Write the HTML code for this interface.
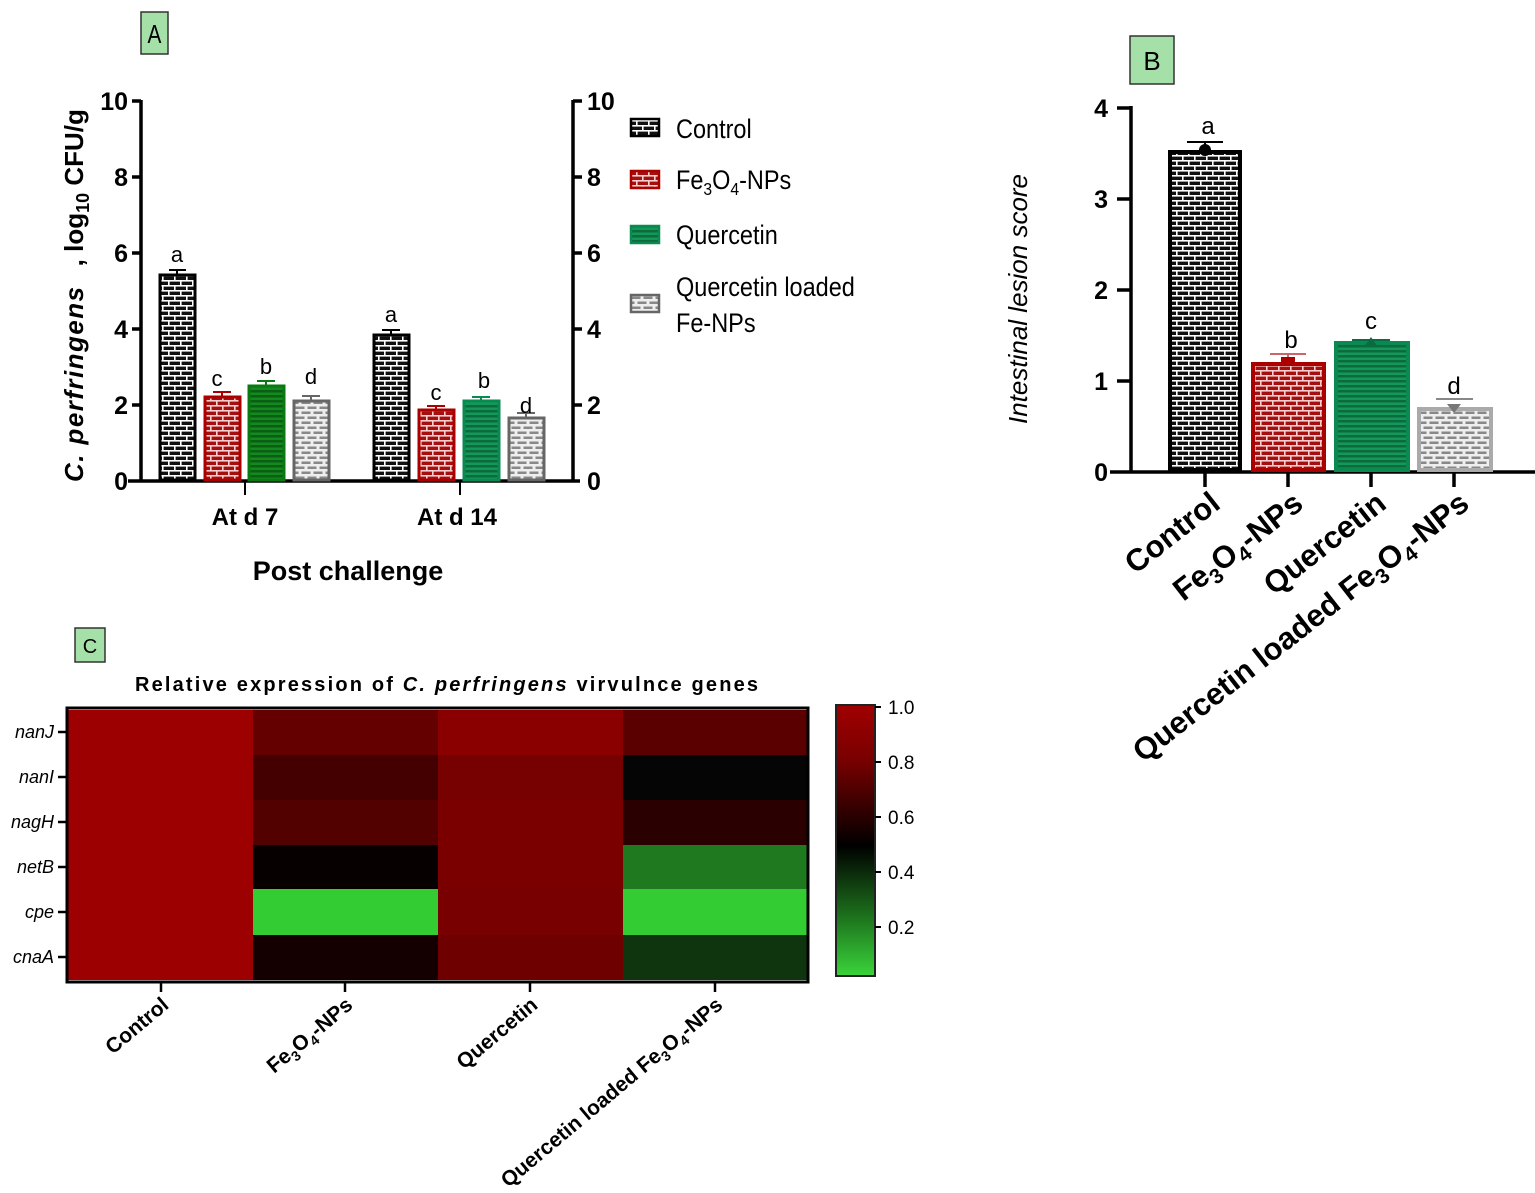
<!DOCTYPE html>
<html><head><meta charset="utf-8"><style>
html,body{margin:0;padding:0;background:#fff}
svg{display:block;font-family:"Liberation Sans",sans-serif}
</style></head><body>
<svg width="1535" height="1193" viewBox="0 0 1535 1193" xmlns="http://www.w3.org/2000/svg">
<defs>
<pattern id="pk" width="12" height="10" patternUnits="userSpaceOnUse"><rect width="12" height="10" fill="#111"/><rect y="0" width="12" height="1.6" fill="#fff"/><rect y="5" width="12" height="1.6" fill="#fff"/><rect x="0" y="0" width="1.6" height="5" fill="#fff"/><rect x="6" y="5" width="1.6" height="5" fill="#fff"/></pattern>
<pattern id="pr" width="12" height="10" patternUnits="userSpaceOnUse"><rect width="12" height="10" fill="#a50f0f"/><rect y="0" width="12" height="1.6" fill="#f6d0d0"/><rect y="5" width="12" height="1.6" fill="#f6d0d0"/><rect x="0" y="0" width="1.6" height="5" fill="#f6d0d0"/><rect x="6" y="5" width="1.6" height="5" fill="#f6d0d0"/></pattern>
<pattern id="pg" width="12" height="10" patternUnits="userSpaceOnUse"><rect width="12" height="10" fill="#12995a"/><rect y="0" width="12" height="2.5" fill="#0c6a3c"/><rect y="5" width="12" height="2.5" fill="#0c6a3c"/></pattern>
<pattern id="pg2" width="12" height="10" patternUnits="userSpaceOnUse"><rect width="12" height="10" fill="#128a1e"/><rect y="0" width="12" height="2.5" fill="#0b5e14"/><rect y="5" width="12" height="2.5" fill="#0b5e14"/></pattern>
<pattern id="pa" width="12" height="10" patternUnits="userSpaceOnUse"><rect width="12" height="10" fill="#eee"/><rect x="1.5" y="1.5" width="9" height="2.5" fill="#888"/><rect x="-4.5" y="6.5" width="9" height="2.5" fill="#888"/><rect x="7.5" y="6.5" width="9" height="2.5" fill="#888"/></pattern>
</defs>

<!-- Panel A -->
<rect x="141" y="12" width="27" height="42" fill="#a6e0a9" stroke="#333" stroke-width="1.5"/>
<text x="154.5" y="43" font-size="26" text-anchor="middle" transform="translate(154.5,0) scale(0.8,1) translate(-154.5,0)">A</text>
<g stroke="#000" stroke-width="3.5" fill="none">
<line x1="141" y1="100" x2="141" y2="482"/>
<line x1="573" y1="100" x2="573" y2="482"/>
<line x1="128" y1="481" x2="580" y2="481"/>
<line x1="132" y1="101" x2="141" y2="101"/><line x1="132" y1="177" x2="141" y2="177"/><line x1="132" y1="253" x2="141" y2="253"/><line x1="132" y1="329" x2="141" y2="329"/><line x1="132" y1="405" x2="141" y2="405"/>
<line x1="573" y1="101" x2="582" y2="101"/><line x1="573" y1="177" x2="582" y2="177"/><line x1="573" y1="253" x2="582" y2="253"/><line x1="573" y1="329" x2="582" y2="329"/><line x1="573" y1="405" x2="582" y2="405"/>
<line x1="245" y1="481" x2="245" y2="495" stroke-width="2"/><line x1="460" y1="481" x2="460" y2="495" stroke-width="2"/>
</g>
<g font-size="25" font-weight="bold" text-anchor="end">
<text x="128" y="110">10</text><text x="128" y="186">8</text><text x="128" y="262">6</text><text x="128" y="338">4</text><text x="128" y="414">2</text><text x="128" y="490">0</text>
</g>
<g font-size="25" font-weight="bold" text-anchor="start">
<text x="587" y="110">10</text><text x="587" y="186">8</text><text x="587" y="262">6</text><text x="587" y="338">4</text><text x="587" y="414">2</text><text x="587" y="490">0</text>
</g>
<text transform="translate(83,482) rotate(-90)" font-size="26" font-weight="bold"><tspan font-style="italic" textLength="195" lengthAdjust="spacing">C. perfringens</tspan><tspan dx="12">  ,  log</tspan><tspan font-size="18" dy="6">10</tspan><tspan dy="-6"> CFU/g</tspan></text>
<!-- bars -->
<g stroke-width="3">
<rect x="160" y="275" width="35" height="205" fill="url(#pk)" stroke="#000"/>
<rect x="205" y="397" width="35" height="83" fill="url(#pr)" stroke="#a00"/>
<rect x="249" y="386" width="35" height="94" fill="url(#pg2)" stroke="#0a7a10"/>
<rect x="294" y="401" width="35" height="79" fill="url(#pa)" stroke="#666"/>
<rect x="374" y="335" width="35" height="145" fill="url(#pk)" stroke="#000"/>
<rect x="419" y="410" width="35" height="70" fill="url(#pr)" stroke="#a00"/>
<rect x="464" y="401" width="35" height="79" fill="url(#pg)" stroke="#0a8a50"/>
<rect x="509" y="418" width="35" height="62" fill="url(#pa)" stroke="#666"/>
</g>
<g stroke-width="2" fill="none">
<path d="M177 275V270M169 270H186" stroke="#000"/>
<path d="M222 397V392M213 392H231" stroke="#a00"/>
<path d="M266 386V381M257 381H275" stroke="#0a7a10"/>
<path d="M311 401V396M302 396H320" stroke="#666"/>
<path d="M391 335V330M382 330H400" stroke="#000"/>
<path d="M436 410V406M427 406H445" stroke="#a00"/>
<path d="M481 401V397M472 397H490" stroke="#0a8a50"/>
<path d="M526 418V413M517 413H535" stroke="#666"/>
</g>
<g font-size="22" text-anchor="middle">
<text x="177" y="262">a</text><text x="217" y="386">c</text><text x="266" y="374">b</text><text x="311" y="384">d</text>
<text x="391" y="322">a</text><text x="436" y="400">c</text><text x="484" y="388">b</text><text x="526" y="413">d</text>
</g>
<text x="245" y="525" font-size="24" font-weight="bold" text-anchor="middle">At d 7</text>
<text x="457" y="525" font-size="24" font-weight="bold" text-anchor="middle">At d 14</text>
<text x="348" y="580" font-size="27" font-weight="bold" text-anchor="middle">Post challenge</text>
<!-- legend -->
<g stroke-width="2.5">
<rect x="631" y="119" width="28" height="17" fill="url(#pk)" stroke="#000"/>
<rect x="631" y="171" width="28" height="17" fill="url(#pr)" stroke="#a00"/>
<rect x="631" y="226" width="28" height="17" fill="url(#pg)" stroke="#0a8a50"/>
<rect x="631" y="295" width="28" height="17" fill="url(#pa)" stroke="#666"/>
</g>
<g font-size="27" transform="translate(676,0) scale(0.87,1) translate(-676,0)">
<text x="676" y="138">Control</text>
<text x="676" y="189">Fe<tspan font-size="18" dy="6">3</tspan><tspan dy="-6">O</tspan><tspan font-size="18" dy="6">4</tspan><tspan dy="-6">-NPs</tspan></text>
<text x="676" y="244">Quercetin</text>
<text x="676" y="296">Quercetin loaded</text>
<text x="676" y="332">Fe-NPs</text>
</g>

<!-- Panel B -->
<rect x="1130" y="36" width="44" height="48" fill="#a6e0a9" stroke="#333" stroke-width="1.5"/>
<text x="1152" y="70" font-size="26" text-anchor="middle">B</text>
<g stroke="#000" stroke-width="3.5">
<line x1="1131" y1="106" x2="1131" y2="473"/>
<line x1="1110" y1="472" x2="1535" y2="472"/>
<line x1="1117" y1="108" x2="1131" y2="108"/><line x1="1117" y1="199" x2="1131" y2="199"/><line x1="1117" y1="290" x2="1131" y2="290"/><line x1="1117" y1="381" x2="1131" y2="381"/>
<line x1="1205" y1="472" x2="1205" y2="487"/><line x1="1288" y1="472" x2="1288" y2="487"/><line x1="1371" y1="472" x2="1371" y2="487"/><line x1="1454" y1="472" x2="1454" y2="487"/>
</g>
<g font-size="25" font-weight="bold" text-anchor="end">
<text x="1108" y="117">4</text><text x="1108" y="208">3</text><text x="1108" y="299">2</text><text x="1108" y="390">1</text><text x="1108" y="481">0</text>
</g>
<text transform="translate(1027,424) rotate(-90)" font-size="26" font-style="italic">Intestinal lesion score</text>
<g stroke-width="4">
<rect x="1170" y="152" width="70" height="318" fill="url(#pk)" stroke="#000"/>
<rect x="1253" y="364" width="71" height="106" fill="url(#pr)" stroke="#a00"/>
<rect x="1336" y="343" width="72" height="127" fill="url(#pg)" stroke="#0a8a50"/>
<rect x="1419" y="409" width="72" height="61" fill="url(#pa)" stroke="#aaa"/>
</g>
<g stroke-width="2">
<path d="M1205 148V142M1187 142H1223" stroke="#000"/><circle cx="1205" cy="150" r="6" fill="#000"/>
<path d="M1288 358V354M1270 354H1306" stroke="#c66"/><rect x="1281" y="357" width="14" height="8" fill="#a00"/>
<path d="M1371 340H1390M1352 340H1371" stroke="#0a6a40"/><path d="M1364 347L1371 337L1378 347Z" fill="#0a6a40"/>
<path d="M1454 399H1473M1436 399H1454" stroke="#888"/><path d="M1447 404L1461 404L1454 413Z" fill="#777"/>
</g>
<g font-size="24" text-anchor="middle">
<text x="1208" y="134">a</text><text x="1291" y="348">b</text><text x="1371" y="329">c</text><text x="1454" y="394">d</text>
</g>
<g font-size="31" font-weight="bold" text-anchor="end">
<text transform="translate(1222,507) rotate(-38)">Control</text>
<text transform="translate(1305,507) rotate(-38)">Fe<tspan font-size="21" dy="7">3</tspan><tspan dy="-7">O</tspan><tspan font-size="21" dy="7">4</tspan><tspan dy="-7">-NPs</tspan></text>
<text transform="translate(1388,507) rotate(-38)">Quercetin</text>
<text transform="translate(1471,507) rotate(-38)">Quercetin loaded Fe<tspan font-size="21" dy="7">3</tspan><tspan dy="-7">O</tspan><tspan font-size="21" dy="7">4</tspan><tspan dy="-7">-NPs</tspan></text>
</g>

<!-- Panel C -->
<rect x="75" y="628" width="30" height="34" fill="#a6e0a9" stroke="#333" stroke-width="1.5"/>
<text x="90" y="653" font-size="20" text-anchor="middle">C</text>
<text x="135" y="691" font-size="20" font-weight="bold" textLength="623" lengthAdjust="spacing">Relative expression of <tspan font-style="italic">C. perfringens</tspan> virvulnce genes</text>
<g>
<rect x="68" y="710" width="185" height="270" fill="#9c0000"/>
<rect x="253" y="710" width="185" height="45" fill="#640000"/>
<rect x="253" y="755" width="185" height="45" fill="#440000"/>
<rect x="253" y="800" width="185" height="45" fill="#520000"/>
<rect x="253" y="845" width="185" height="44" fill="#060000"/>
<rect x="253" y="889" width="185" height="46" fill="#33cc33"/>
<rect x="253" y="935" width="185" height="45" fill="#140000"/>
<rect x="438" y="710" width="185" height="45" fill="#8a0000"/>
<rect x="438" y="755" width="185" height="45" fill="#770000"/>
<rect x="438" y="800" width="185" height="45" fill="#7a0000"/>
<rect x="438" y="845" width="185" height="44" fill="#7a0000"/>
<rect x="438" y="889" width="185" height="46" fill="#780000"/>
<rect x="438" y="935" width="185" height="45" fill="#6e0000"/>
<rect x="623" y="710" width="184" height="45" fill="#5a0000"/>
<rect x="623" y="755" width="184" height="45" fill="#050505"/>
<rect x="623" y="800" width="184" height="45" fill="#2a0000"/>
<rect x="623" y="845" width="184" height="44" fill="#1f7a1f"/>
<rect x="623" y="889" width="184" height="46" fill="#33cc33"/>
<rect x="623" y="935" width="184" height="45" fill="#0f350f"/>
</g>
<rect x="67" y="708" width="741" height="274" fill="none" stroke="#000" stroke-width="3"/>
<g stroke="#000" stroke-width="2.5">
<line x1="58" y1="732" x2="67" y2="732"/><line x1="58" y1="777" x2="67" y2="777"/><line x1="58" y1="822" x2="67" y2="822"/><line x1="58" y1="867" x2="67" y2="867"/><line x1="58" y1="912" x2="67" y2="912"/><line x1="58" y1="957" x2="67" y2="957"/>
<line x1="161" y1="982" x2="161" y2="992"/><line x1="345" y1="982" x2="345" y2="992"/><line x1="530" y1="982" x2="530" y2="992"/><line x1="715" y1="982" x2="715" y2="992"/>
</g>
<g font-size="18" font-style="italic" text-anchor="end">
<text x="54" y="738">nanJ</text><text x="54" y="783">nanI</text><text x="54" y="828">nagH</text><text x="54" y="873">netB</text><text x="54" y="918">cpe</text><text x="54" y="963">cnaA</text>
</g>
<g font-size="21" font-weight="bold" text-anchor="end">
<text transform="translate(170,1007) rotate(-40)">Control</text>
<text transform="translate(354,1007) rotate(-40)">Fe<tspan font-size="14" dy="5">3</tspan><tspan dy="-5">O</tspan><tspan font-size="14" dy="5">4</tspan><tspan dy="-5">-NPs</tspan></text>
<text transform="translate(539,1007) rotate(-40)">Quercetin</text>
<text transform="translate(724,1007) rotate(-40)">Quercetin loaded Fe<tspan font-size="14" dy="5">3</tspan><tspan dy="-5">O</tspan><tspan font-size="14" dy="5">4</tspan><tspan dy="-5">-NPs</tspan></text>
</g>
<linearGradient id="cb" x1="0" y1="0" x2="0" y2="1">
<stop offset="0" stop-color="#a00000"/><stop offset="0.2" stop-color="#7a0000"/><stop offset="0.52" stop-color="#000"/><stop offset="0.8" stop-color="#1f7a1f"/><stop offset="1" stop-color="#3ad43a"/>
</linearGradient>
<rect x="836" y="705" width="39" height="271" fill="url(#cb)" stroke="#222" stroke-width="2"/>
<g stroke="#000" stroke-width="2"><line x1="875" y1="707" x2="881" y2="707"/><line x1="875" y1="762" x2="881" y2="762"/><line x1="875" y1="817" x2="881" y2="817"/><line x1="875" y1="872" x2="881" y2="872"/><line x1="875" y1="927" x2="881" y2="927"/></g>
<g font-size="19">
<text x="888" y="714">1.0</text><text x="888" y="769">0.8</text><text x="888" y="824">0.6</text><text x="888" y="879">0.4</text><text x="888" y="934">0.2</text>
</g>
</svg>
</body></html>
